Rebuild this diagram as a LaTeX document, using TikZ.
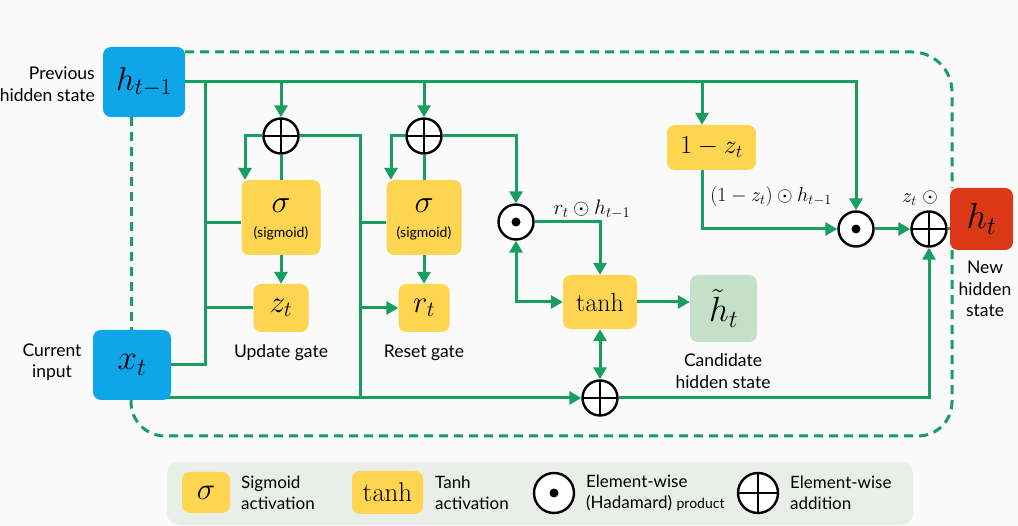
\RequirePackage{fix-cm}
\documentclass[tikz,border=0pt]{standalone}
\usepackage[no-math]{fontspec}
\setmainfont{Lato}
\usetikzlibrary{arrows.meta}
\definecolor{gline}{RGB}{24,158,96}
\definecolor{bluec}{RGB}{14,165,233}
\definecolor{yel}{RGB}{253,213,80}
\definecolor{redc}{RGB}{218,56,22}
\definecolor{htc}{RGB}{196,225,199}
\definecolor{legc}{RGB}{233,238,233}
\definecolor{bgc}{RGB}{250,250,250}
\pgfdeclarelayer{background}
\pgfdeclarelayer{bottom}
\pgfsetlayers{bottom,background,main}
\begin{document}
\begin{tikzpicture}[x=1pt,y=-1pt,
  conn/.style={draw=gline, line width=3pt},
  arr/.style={conn, -{Triangle[length=12pt,width=13pt]}},
  arrb/.style={conn, {Triangle[length=12pt,width=13pt]}-{Triangle[length=12pt,width=13pt]}},
  dashloop/.style={draw=gline, line width=3pt, dash pattern=on 9pt off 6pt},
  box/.style={rounded corners=8pt, inner sep=0pt, align=center},
  ybox/.style={box, fill=yel},
  opc/.style={circle, draw=black, line width=2.4pt, fill=white, minimum size=35pt, inner sep=0pt},
  oplus/.style={opc, path picture={\draw[black, line width=2.4pt] (path picture bounding box.west) -- (path picture bounding box.east) (path picture bounding box.north) -- (path picture bounding box.south);}},
  odot/.style={opc, path picture={\fill[black] (path picture bounding box.center) circle (4.5pt);}},
  lbl/.style={font=\fontsize{17.5}{21.5}\selectfont, align=center, inner sep=0pt},
  lbl2/.style={font=\fontsize{17}{21}\selectfont, align=left, inner sep=0pt, anchor=west},
  txt/.style={inner sep=0pt},
]
\useasboundingbox (0,0) rectangle (1018,526);
\begin{pgfonlayer}{bottom}
\fill[bgc] (0,0) rectangle (1018,526);
\end{pgfonlayer}

% inputs
\node[box, fill=bluec, minimum width=82pt, minimum height=70pt] (hprev) at (144,82) {\fontsize{33}{33}\selectfont$h_{t-1}$};
\node[box, fill=bluec, minimum width=78pt, minimum height=70pt] (xt) at (132,365) {\fontsize{35}{35}\selectfont$x_t$};
\node[lbl, anchor=east, align=right] (lprev) at (95,84) {Previous\\hidden state};
\node[lbl] (lcur) at (52,362) {Current\\input};

% update gate
\node[oplus] (op1) at (281,136) {};
\node[ybox, minimum width=79pt, minimum height=75pt] (sg1) at (281,217.5) {};
\node[txt] (sg1s) at (281,206) {\fontsize{32}{32}\selectfont$\sigma$};
\node[txt] (sg1t) at (281,233) {\fontsize{14}{14}\selectfont(sigmoid)};
\node[ybox, minimum width=55pt, minimum height=48pt] (zt) at (281,308) {\fontsize{31}{31}\selectfont$z_t$};
\node[lbl] (lupd) at (281,353) {Update gate};

% reset gate
\node[oplus] (op2) at (424,136) {};
\node[ybox, minimum width=75pt, minimum height=75pt] (sg2) at (424,217.5) {};
\node[txt] (sg2s) at (424,206) {\fontsize{32}{32}\selectfont$\sigma$};
\node[txt] (sg2t) at (424,233) {\fontsize{14}{14}\selectfont(sigmoid)};
\node[ybox, minimum width=51pt, minimum height=48pt] (rt) at (424,308) {\fontsize{31}{31}\selectfont$r_t$};
\node[lbl] (lrst) at (424,353) {Reset gate};

% candidate
\node[odot] (od1) at (516,222) {};
\node[txt] (lrh) at (592,209) {\fontsize{21}{21}\selectfont$r_t\odot h_{t-1}$};
\node[ybox, minimum width=74pt, minimum height=54pt] (tanh) at (600,302) {\fontsize{26}{26}\selectfont$\tanh$};
\node[oplus] (op3) at (600,398) {};
\node[box, fill=htc, minimum width=67pt, minimum height=67pt] (htil) at (723.5,308.5) {\fontsize{35}{35}\selectfont$\tilde{h}_t$};
\node[lbl] (lcand) at (723,371) {Candidate\\hidden state};

% output
\node[ybox, minimum width=89pt, minimum height=45pt] (omz) at (711.5,147.5) {\fontsize{26}{26}\selectfont$1-z_t$};
\node[txt] (lomz) at (771,197) {\fontsize{20}{20}\selectfont$(1-z_t)\odot h_{t-1}$};
\node[odot] (od2) at (856,229) {};
\node[oplus] (op4) at (929,229) {};
\node[txt] (lzt) at (920,198) {\fontsize{20}{20}\selectfont$z_t\mkern5mu\odot$};
\node[box, fill=redc, minimum width=63pt, minimum height=62pt] (ht) at (981.5,219) {\fontsize{36}{36}\selectfont$h_t$};
\node[lbl] (lnew) at (985,289) {New\\hidden\\state};

% coordinates
\coordinate (v1top) at (205,82);
\coordinate (v1s) at (205,223);
\coordinate (t1) at (281,82);
\coordinate (l1) at (245,136);
\coordinate (v2b) at (360,398);
\coordinate (v2a) at (360,223);
\coordinate (t2) at (424,82);
\coordinate (l2) at (391,136);
\coordinate (t3) at (702,82);
\coordinate (dtr) at (952,52);
\coordinate (dbr) at (952,436);
\coordinate (dbl) at (131,436);

% connectors
\draw[arr] (hprev.east) -| (od2.north);
\draw[conn] (xt.east) -| (v1top);
\draw[conn] (v1s) -- (v1s -| sg1.west);
\draw[conn] (zt.west) -- (zt.west -| v1top);
\draw[arr] (t1) -- (op1.north);
\draw[arr] (op1.west) -| (sg1.north -| l1);
\draw[conn] (op1.south) -- (op1.south |- sg1.north);
\draw[arr] (sg1.south) -- (zt.north);
\draw[conn] (op1.east) -| (v2b);
\draw[conn] (v2a) -- (v2a -| sg2.west);
\draw[arr] (rt.west -| v2b) -- (rt.west);
\draw[arr] (t2) -- (op2.north);
\draw[arr] (op2.west) -| (sg2.north -| l2);
\draw[conn] (op2.south) -- (op2.south |- sg2.north);
\draw[arr] (sg2.south) -- (rt.north);
\draw[arr] (op2.east) -| (od1.north);
\draw[arr] (od1.east) -| (tanh.north);
\draw[arrb] (od1.south) |- (tanh.west);
\draw[arrb] (tanh.south) -- (op3.north);
\draw[arr] (tanh.east) -- (tanh.east -| htil.west);
\begin{pgfonlayer}{background}
\draw[arr] (xt.center |- op3) -- (op3.west);
\end{pgfonlayer}
\draw[arr] (op3.east) -| (op4.south);
\draw[arr] (t3) -- (t3 |- omz.north);
\draw[arr] (omz.south -| t3) |- (od2.west);
\draw[arr] (od2.east) -- (op4.west);
\draw[conn] (op4.east) -- (op4.east -| ht.west);

% dashed recurrence
\draw[dashloop, rounded corners=40pt] ([yshift=-5pt]hprev.north east) -- (dtr) -- (dtr |- ht.north);
\draw[dashloop, rounded corners=34pt] (dtr |- ht.south) -- (dbr) -- (dbl) -- (xt.south -| dbl);
\draw[dashloop] (hprev.south -| dbl) -- (xt.north -| dbl);

% legend
\node[rounded corners=12pt, fill=legc, minimum width=746pt, minimum height=63pt, inner sep=0pt] (leg) at (540,493.5) {};
\node[ybox, minimum width=48pt, minimum height=41pt] (lsg) at (206,492.5) {\fontsize{31}{31}\selectfont$\sigma$};
\node[lbl2] (lsgt) at (241,493) {Sigmoid\\activation};
\node[ybox, minimum width=71pt, minimum height=43pt] (ltanh) at (387.5,492.5) {\fontsize{27}{27}\selectfont$\tanh$};
\node[lbl2] (ltanht) at (435,493) {Tanh\\activation};
\node[odot, minimum size=40pt] (lod) at (554,493) {};
\node[lbl2] (lodt) at (586,493) {Element-wise\\(Hadamard) {\fontsize{14}{16}\selectfont product}};
\node[oplus, minimum size=40pt] (lop) at (758,493) {};
\node[lbl2] (lopt) at (790,493) {Element-wise\\addition};
\end{tikzpicture}
\end{document}
